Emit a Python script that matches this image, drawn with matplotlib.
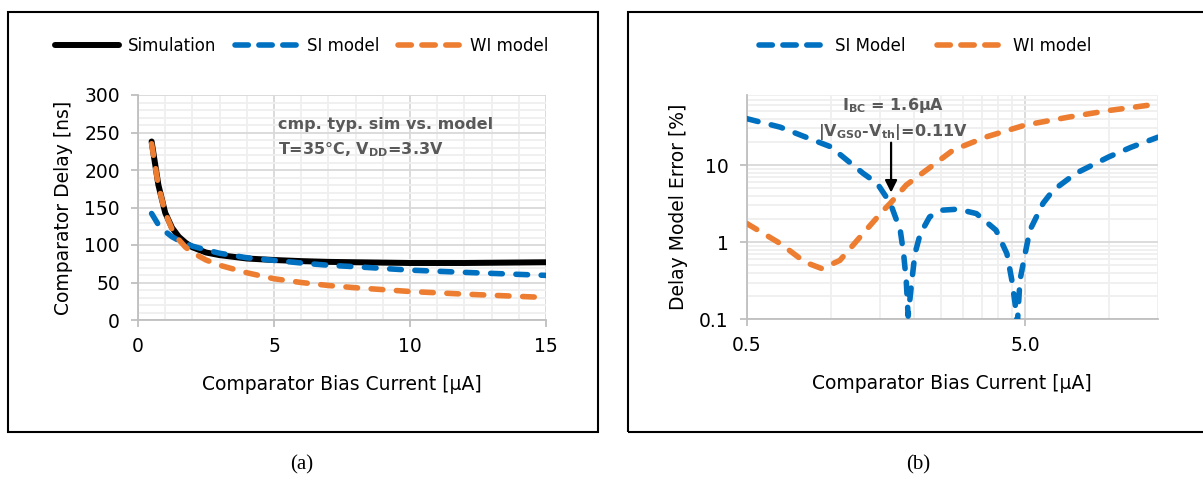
import matplotlib
matplotlib.use("Agg")
import matplotlib.pyplot as plt
from matplotlib.patches import Rectangle
from matplotlib.lines import Line2D
from matplotlib.ticker import FixedLocator, NullFormatter, FixedFormatter

plt.rcParams['font.family'] = ['DejaVu Sans']
plt.rcParams['mathtext.fontset'] = 'custom'
plt.rcParams['mathtext.rm'] = 'DejaVu Sans'
plt.rcParams['mathtext.bf'] = 'DejaVu Sans:bold'
plt.rcParams['mathtext.it'] = 'DejaVu Sans:italic'

# ---------------- data: panel (a) ----------------
bias_a = [0.5, 0.75, 1, 1.25, 1.5, 1.75, 2, 2.5, 3, 4, 5, 6, 7, 8, 10, 12, 15]
sim_delay = [238, 180, 143, 123, 111, 103, 97, 90, 86.5, 82, 80, 78.5, 77.5, 77, 76, 76, 77]
si_delay = [142, 127, 118, 111, 106, 102, 98.5, 93.5, 89, 83, 79.5, 76, 73, 71, 66.5, 63.5, 59.5]
wi_delay = [235, 179, 143, 121, 107, 97, 90, 80, 73, 63, 55, 50, 46, 43, 38, 34.5, 30]

# ---------------- data: panel (b) ----------------
si_err_x = [0.5, 0.66, 0.87, 1.0, 1.31, 1.47, 1.64, 1.78, 1.83, 1.87, 1.90, 1.96, 2.01, 2.10,
            2.27, 2.51, 2.87, 3.34, 3.93, 4.3, 4.48, 4.6, 4.69, 4.79, 5.0, 5.2, 5.8, 6.3, 7.6,
            10, 12, 15]
si_err = [40, 31, 21, 17.3, 7.8, 5.8, 3.2, 1.43, 0.71, 0.32, 0.11, 0.32, 0.71, 1.28,
          2.13, 2.6, 2.68, 2.35, 1.43, 0.71, 0.32, 0.16, 0.09, 0.32, 0.71, 1.43, 3.2, 4.7, 7.8,
          12.8, 17, 23]
wi_err_x = [0.5, 0.66, 0.81, 0.93, 1.08, 1.31, 1.55, 1.64, 1.87, 2.21, 2.76, 3.64, 5.0, 7.2, 10, 15]
wi_err = [1.75, 0.96, 0.55, 0.455, 0.58, 1.3, 2.6, 3.2, 5.5, 8.6, 15.7, 23.3, 33, 42, 51, 62]

BLUE = '#0070C0'
ORANGE = '#ED7D31'
MAJ = '#D9D9D9'
MIN = '#EFEFEF'
TXT = '#595959'

W, H = 1203, 480
fig = plt.figure(figsize=(W / 100, H / 100), dpi=100)

def fx(px):
    return px / W

def fy(py):
    return 1 - py / H

# outer boxes
fig.patches.append(Rectangle((fx(8), fy(432)), fx(590), 420 / H, transform=fig.transFigure,
                             fill=False, edgecolor='black', lw=1.5))
fig.patches.append(Rectangle((fx(628), fy(432)), fx(600), 420 / H, transform=fig.transFigure,
                             fill=False, edgecolor='black', lw=1.5, clip_on=False))

dash_kw = dict(lw=4.0, dashes=(2.1, 2.45), dash_capstyle='round')
leg_dash_kw = dict(lw=4.0, dashes=(2.4, 1.9), dash_capstyle='round')

TICK_FS = 13.5
LAB_FS = 13.5
ANN_FS = 11.5

# ---------------- panel (a) ----------------
ax1 = fig.add_axes([fx(138), fy(320), fx(546 - 138), (320 - 95) / H])
ax1.set_xlim(0, 15)
ax1.set_ylim(0, 300)
ax1.xaxis.set_major_locator(FixedLocator([0, 5, 10, 15]))
ax1.xaxis.set_minor_locator(FixedLocator([1, 2, 3, 4, 6, 7, 8, 9, 11, 12, 13, 14]))
ax1.yaxis.set_major_locator(FixedLocator([0, 50, 100, 150, 200, 250, 300]))
ax1.yaxis.set_minor_locator(FixedLocator([v for v in range(10, 300, 10) if v % 50]))
ax1.grid(which='major', color=MAJ, lw=1.3)
ax1.grid(which='minor', color=MIN, lw=1.3)
ax1.set_axisbelow(True)
ax1.plot(bias_a, sim_delay, color='black', lw=4.3, solid_capstyle='round', zorder=3)
ax1.plot(bias_a, si_delay, color=BLUE, zorder=4, **dash_kw)
ax1.plot(bias_a, wi_delay, color=ORANGE, zorder=5, **dash_kw)
ax1.text(5.15, 261, 'cmp. typ. sim vs. model', fontsize=ANN_FS, fontweight='bold', color=TXT, va='center')
ax1.text(5.15, 227, r'T=35°C, V$_{\mathbf{DD}}$=3.3V', fontsize=ANN_FS, fontweight='bold', color=TXT, va='center')
ax1.set_xlabel('Comparator Bias Current [µA]', fontsize=LAB_FS, labelpad=14)
ax1.set_ylabel('Comparator Delay [ns]', fontsize=LAB_FS, labelpad=8)

# ---------------- panel (b) ----------------
ax2 = fig.add_axes([fx(746.7), fy(319.3), fx(1158 - 746.7), (319.3 - 95) / H])
ax2.set_xscale('log')
ax2.set_yscale('log')
ax2.set_xlim(0.5, 15)
ax2.set_ylim(0.1, 81)
ax2.xaxis.set_major_locator(FixedLocator([0.5, 5.0]))
ax2.xaxis.set_major_formatter(FixedFormatter(['0.5', '5.0']))
ax2.xaxis.set_minor_locator(FixedLocator([1.0, 1.5, 2.0, 2.5, 3.0, 3.5, 4.0, 4.5, 10, 15]))
ax2.xaxis.set_minor_formatter(NullFormatter())
ax2.yaxis.set_major_locator(FixedLocator([0.1, 1, 10]))
ax2.yaxis.set_major_formatter(FixedFormatter(['0.1', '1', '10']))
ax2.yaxis.set_minor_locator(FixedLocator([k * d for d in (0.1, 1, 10) for k in range(2, 10)]))
ax2.yaxis.set_minor_formatter(NullFormatter())
ax2.grid(which='major', color=MAJ, lw=1.3)
ax2.grid(which='minor', color=MIN, lw=1.3)
ax2.set_axisbelow(True)
ax2.plot(si_err_x, si_err, color=BLUE, zorder=4, **dash_kw)
ax2.plot(wi_err_x, wi_err, color=ORANGE, zorder=3, **dash_kw)
ax2.text(1.68, 60, r'I$_{\mathbf{BC}}$ = 1.6µA', fontsize=ANN_FS, fontweight='bold', color=TXT,
         ha='center', va='center')
ax2.text(1.68, 26.5, r'|V$_{\mathbf{GS0}}$-V$_{\mathbf{th}}$|=0.11V', fontsize=ANN_FS, fontweight='bold',
         color=TXT, ha='center', va='center')
ax2.annotate('', xy=(1.65, 4.4), xytext=(1.65, 19.5),
             arrowprops=dict(arrowstyle='-|>', color='black', lw=1.6, mutation_scale=18,
                             shrinkA=0, shrinkB=0), zorder=6)
ax2.set_xlabel('Comparator Bias Current [µA]', fontsize=LAB_FS, labelpad=14)
ax2.set_ylabel('Delay Model Error [%]', fontsize=LAB_FS, labelpad=8)

for ax in (ax1, ax2):
    for s in ('top', 'right'):
        ax.spines[s].set_visible(False)
    for s in ('left', 'bottom'):
        ax.spines[s].set_color('#BFBFBF')
        ax.spines[s].set_linewidth(1.3)
    ax.tick_params(which='major', direction='out', length=5, width=1.3, color='#BFBFBF',
                   labelsize=TICK_FS)
    ax.tick_params(which='minor', length=0)
    ax.tick_params(axis='y', which='major', pad=8)
    ax.tick_params(axis='x', which='major', pad=7)

# legends
h_sim = Line2D([], [], color='black', lw=4.3, solid_capstyle='round')
h_si = Line2D([], [], color=BLUE, **leg_dash_kw)
h_wi = Line2D([], [], color=ORANGE, **leg_dash_kw)
fig.legend([h_sim, h_si, h_wi], ['Simulation', 'SI model', 'WI model'], loc='center',
           bbox_to_anchor=(fx(302), fy(46)), ncol=3, frameon=False, fontsize=12,
           handlelength=3.8, handletextpad=0.55, columnspacing=1.1)
fig.legend([h_si, h_wi], ['SI Model', 'WI model'], loc='center',
           bbox_to_anchor=(fx(925), fy(46)), ncol=2, frameon=False, fontsize=12,
           handlelength=3.8, handletextpad=0.75, columnspacing=1.9)

fig.text(fx(302), fy(465), '(a)', fontsize=15, family='Liberation Serif', ha='center', va='center')
fig.text(fx(918), fy(465), '(b)', fontsize=15, family='Liberation Serif', ha='center', va='center')

fig.savefig('out.png', dpi=100)
